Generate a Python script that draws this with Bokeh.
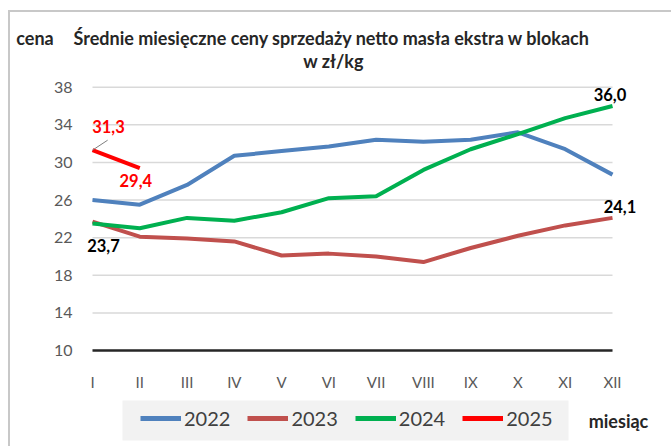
from bokeh.plotting import figure
from bokeh.models import Range1d, FixedTicker, Legend, LegendItem, Label, BoxAnnotation
from bokeh.layouts import column
from bokeh.core.properties import value
from bokeh.embed import file_html
from bokeh.resources import INLINE

months = [1, 2, 3, 4, 5, 6, 7, 8, 9, 10, 11, 12]
month_labels = ["I", "II", "III", "IV", "V", "VI", "VII", "VIII", "IX", "X", "XI", "XII"]
y_ticks = [10, 14, 18, 22, 26, 30, 34, 38]

s2022 = [26.0, 25.5, 27.6, 30.7, 31.2, 31.7, 32.4, 32.2, 32.4, 33.2, 31.4, 28.7]
s2023 = [23.7, 22.1, 21.9, 21.6, 20.1, 20.3, 20.0, 19.4, 20.9, 22.2, 23.3, 24.1]
s2024 = [23.5, 23.0, 24.1, 23.8, 24.7, 26.2, 26.4, 29.2, 31.4, 33.0, 34.7, 36.0]
s2025 = [31.3, 29.4]

series_names = ["2022", "2023", "2024", "2025"]
series_colors = ["#4f81bd", "#c0504d", "#00b050", "#ff0000"]
series_values = [s2022, s2023, s2024, s2025]

title_line1 = "Średnie miesięczne ceny sprzedaży netto masła ekstra w blokach"
title_line2 = "w zł/kg"
y_title = "cena"
x_title = "miesiąc"

FONT = "Lato"
W = 661


def blank(height):
    f = figure(width=W, height=height, output_backend="svg", toolbar_location=None,
               x_range=Range1d(0, W), y_range=Range1d(0, height),
               x_axis_type=None, y_axis_type=None,
               min_border=0, min_border_left=0, min_border_right=0,
               min_border_top=0, min_border_bottom=0)
    f.grid.visible = False
    f.outline_line_color = None
    f.frame_align = False
    return f


def slabel(f, x, y, txt, size="16px", style="bold", color="#262626"):
    f.add_layout(Label(x=x, y=y, x_units="screen", y_units="screen", text=txt,
                       text_font=FONT, text_font_size=size, text_font_style=style,
                       text_color=color, text_align="center", text_baseline="middle"))


# ---------- title strip ----------
top = blank(66)
slabel(top, 24.5, 41, y_title, size="18px")
slabel(top, 321.5, 41, title_line1, size="18px")
slabel(top, 323, 18, title_line2, size="18px")

# ---------- main chart ----------
p = figure(width=W, height=318, output_backend="svg", toolbar_location=None,
           x_range=Range1d(0.7885, 13.248), y_range=Range1d(10, 38.6),
           min_border_left=72, min_border_right=0, min_border_top=3,
           min_border_bottom=46)
p.frame_align = False
p.outline_line_color = None
p.grid.visible = False

p.xaxis.ticker = FixedTicker(ticks=months)
p.xaxis.bounds = (months[0], months[-1])
p.xaxis.major_label_overrides = {m: l for m, l in zip(months, month_labels)}
p.xaxis.axis_line_color = "#262626"
p.xaxis.axis_line_width = 2.5
p.xaxis.major_tick_line_color = None
p.xaxis.minor_tick_line_color = None
p.xaxis.major_label_standoff = 16
p.xaxis.major_label_text_font = FONT
p.xaxis.major_label_text_font_size = "15px"
p.xaxis.major_label_text_color = "#595959"

p.yaxis.ticker = FixedTicker(ticks=y_ticks)
p.yaxis.axis_line_color = None
p.yaxis.major_tick_line_color = None
p.yaxis.minor_tick_line_color = None
p.yaxis.major_label_standoff = 4
p.yaxis.major_label_text_font = FONT
p.yaxis.major_label_text_font_size = "16px"
p.yaxis.major_label_text_color = "#595959"

# horizontal grid lines spanning I..XII only
p.segment(x0=[months[0]] * len(y_ticks), x1=[months[-1]] * len(y_ticks),
          y0=y_ticks, y1=y_ticks, line_color="#d9d9d9", line_width=1.5)

for vals, col in zip(series_values, series_colors):
    p.line(months[:len(vals)], vals, line_color=col, line_width=4)

# leader line for the first 2025 label
p.segment(x0=[months[0]], y0=[s2025[0]], x1=[months[0] + 0.32], y1=[s2025[0] + 1.06],
          line_color="#7f7f7f", line_width=1)


def dlabel(x, y, txt, color, dx, dy):
    p.text(x=[x], y=[y], text=[txt], text_color=color, text_font=value(FONT),
           text_font_style="bold", text_font_size="16.5px", text_align="center",
           text_baseline="middle", x_offset=dx, y_offset=dy)


dlabel(months[0], s2025[0], "31,3", "#ff0000", 16, -24)
dlabel(months[1], s2025[1], "29,4", "#ff0000", -4, 12.5)
dlabel(months[0], s2023[0], "23,7", "#000000", 11, 24)
dlabel(months[11], s2024[11], "36,0", "#000000", -2.5, -11.5)
dlabel(months[11], s2023[11], "24,1", "#000000", 7.5, -11.5)

# ---------- legend strip ----------
bot = blank(50)
bot.add_layout(BoxAnnotation(left=112, right=558, bottom=6, top=46,
                             fill_color="#f2f2f2", fill_alpha=1, line_color=None))
items = []
for name, col, vals in zip(series_names, series_colors, series_values):
    r = bot.line(months[:len(vals)], vals, line_color=col, line_width=5, visible=False)
    items.append(LegendItem(label=name, renderers=[r]))
legend = Legend(items=items, orientation="horizontal", location=(130, 16))
legend.background_fill_alpha = 0
legend.border_line_color = None
legend.inactive_fill_alpha = 0
legend.label_text_font = FONT
legend.label_text_font_size = "20px"
legend.label_text_color = "#404040"
legend.glyph_width = 41
legend.label_standoff = 3
legend.spacing = 17
legend.padding = 8
legend.margin = 0
bot.add_layout(legend, "center")
slabel(bot, 608, 26, x_title, size="18px")

layout = column(top, p, bot, spacing=0)
layout.styles = {"margin-left": "8px", "margin-top": "10px",
                 "border-left": "2px solid #c8c8c8", "border-top": "2px solid #c8c8c8"}

open("out.html", "w").write(file_html(layout, INLINE))
